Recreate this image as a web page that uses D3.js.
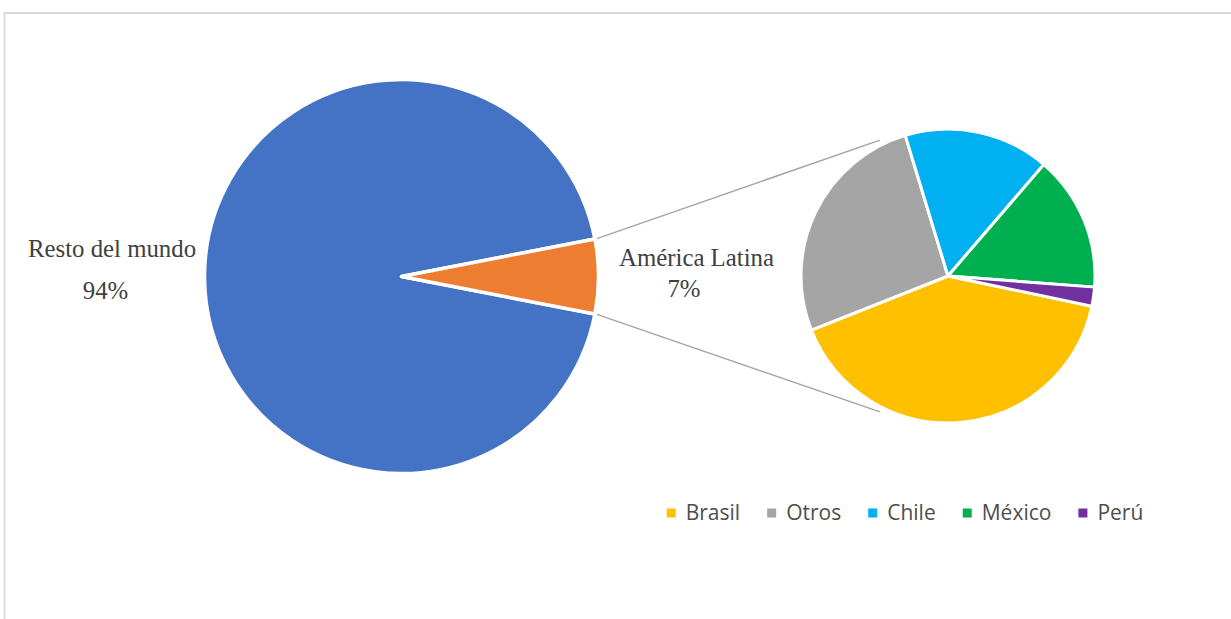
<!DOCTYPE html>
<html>
<head>
<meta charset="utf-8">
<script src="https://cdn.jsdelivr.net/npm/d3@7"></script>
<style>
  html, body { margin: 0; padding: 0; background: #ffffff; }
  svg { display: block; }
</style>
</head>
<body>
<svg id="chart" width="1231" height="619"></svg>
<script>
// ---- data ----
const mainCategories = ["Resto del mundo", "América Latina"];
const mainValues = [93.9, 6.1];
const mainLabels = ["94%", "7%"];
const mainColors = ["#4472C4", "#ED7D31"];

const subCategories = ["Brasil", "Otros", "Chile", "México", "Perú"];
const subValues = [40.7, 26.3, 16.0, 14.9, 2.1];
const subColors = ["#FFC000", "#A5A5A5", "#00B0F0", "#00B050", "#7030A0"];

// ---- layout ----
const W = 1231, H = 619;
const svg = d3.select("#chart");

// outer frame (chart area border, extends past viewport at right/bottom)
svg.append("path")
  .attr("d", `M4.5,${H + 5} L4.5,13 L${W + 5},13`)
  .attr("fill", "none")
  .attr("stroke", "#d9d9d9")
  .attr("stroke-width", 1.8);

const mainC = { x: 401.5, y: 276.5 }, mainR = 197;
const subC = { x: 948, y: 276 }, subR = 147;

// main pie: second slice centred at 3 o'clock
const total = d3.sum(mainValues);
const aSlice = mainValues[1] / total * 2 * Math.PI;
const start = Math.PI / 2 + aSlice / 2;
const mainPie = d3.pie().sort(null).startAngle(start).endAngle(start + 2 * Math.PI);
const mainArcs = mainPie(mainValues);
const mainArc = d3.arc().innerRadius(0).outerRadius(mainR);

const gMain = svg.append("g").attr("transform", `translate(${mainC.x},${mainC.y})`);
gMain.selectAll("path").data(mainArcs).join("path")
  .attr("d", mainArc)
  .attr("fill", (d, i) => mainColors[i])
  .attr("stroke", "#ffffff")
  .attr("stroke-width", 3.5)
  .attr("stroke-linejoin", "round");

// secondary pie
const subStart = 101.9 * Math.PI / 180;
const subPie = d3.pie().sort(null).startAngle(subStart).endAngle(subStart + 2 * Math.PI);
const subArcs = subPie(subValues);
const subArc = d3.arc().innerRadius(0).outerRadius(subR);
const gSub = svg.append("g").attr("transform", `translate(${subC.x},${subC.y})`);
gSub.selectAll("path").data(subArcs).join("path")
  .attr("d", subArc)
  .attr("fill", (d, i) => subColors[i])
  .attr("stroke", "#ffffff")
  .attr("stroke-width", 3)
  .attr("stroke-linejoin", "round");

// connector lines from edges of the exploded slice to the secondary pie
const sl = mainArcs[1];
const polar = (c, r, a) => [c.x + r * Math.sin(a), c.y - r * Math.cos(a)];
const tAng = 26.6 * Math.PI / 180;
const conn = [
  [polar(mainC, mainR + 2, sl.startAngle), polar(subC, subR + 5, 2 * Math.PI - tAng)],
  [polar(mainC, mainR + 2, sl.endAngle), polar(subC, subR + 5, Math.PI + tAng)]
];
svg.append("g").selectAll("line").data(conn).join("line")
  .attr("x1", d => d[0][0]).attr("y1", d => d[0][1])
  .attr("x2", d => d[1][0]).attr("y2", d => d[1][1])
  .attr("stroke", "#A5A5A5")
  .attr("stroke-width", 1.5);

// data labels
const serif = "'Liberation Serif', 'DejaVu Serif', serif";
const labelPos = [
  { x: 112, y: 257, px: 105.5, py: 299 },
  { x: 696.5, y: 266, px: 684, py: 297 }
];
const gLab = svg.append("g")
  .attr("font-family", serif)
  .attr("font-size", 24.8)
  .attr("fill", "#404040")
  .attr("text-anchor", "middle");
mainCategories.forEach((c, i) => {
  gLab.append("text").attr("x", labelPos[i].x).attr("y", labelPos[i].y).text(c);
  gLab.append("text").attr("x", labelPos[i].px).attr("y", labelPos[i].py).text(mainLabels[i]);
});

// legend
const legend = svg.append("g")
  .attr("font-family", "'Open Sans', 'Liberation Sans', sans-serif")
  .attr("font-size", 21)
  .attr("fill", "#4d4d4d");
const mk = 9, mkGap = 10, itemGap = 27;
const items = legend.selectAll("g").data(subCategories).join("g");
items.append("rect").attr("width", mk).attr("height", mk).attr("y", -mk / 2)
  .attr("fill", (d, i) => subColors[i]);
items.append("text").attr("x", mk + mkGap).attr("y", 0).attr("dy", "0.35em").text(d => d);
let x = 0;
const widths = [];
items.each(function () {
  const w = mk + mkGap + this.querySelector("text").getComputedTextLength();
  widths.push(w);
});
const totalW = d3.sum(widths) + itemGap * (widths.length - 1);
const lx0 = 905 - totalW / 2, ly = 513;
items.attr("transform", (d, i) => {
  const t = `translate(${lx0 + x},${ly})`;
  x += widths[i] + itemGap;
  return t;
});
</script>
</body>
</html>
